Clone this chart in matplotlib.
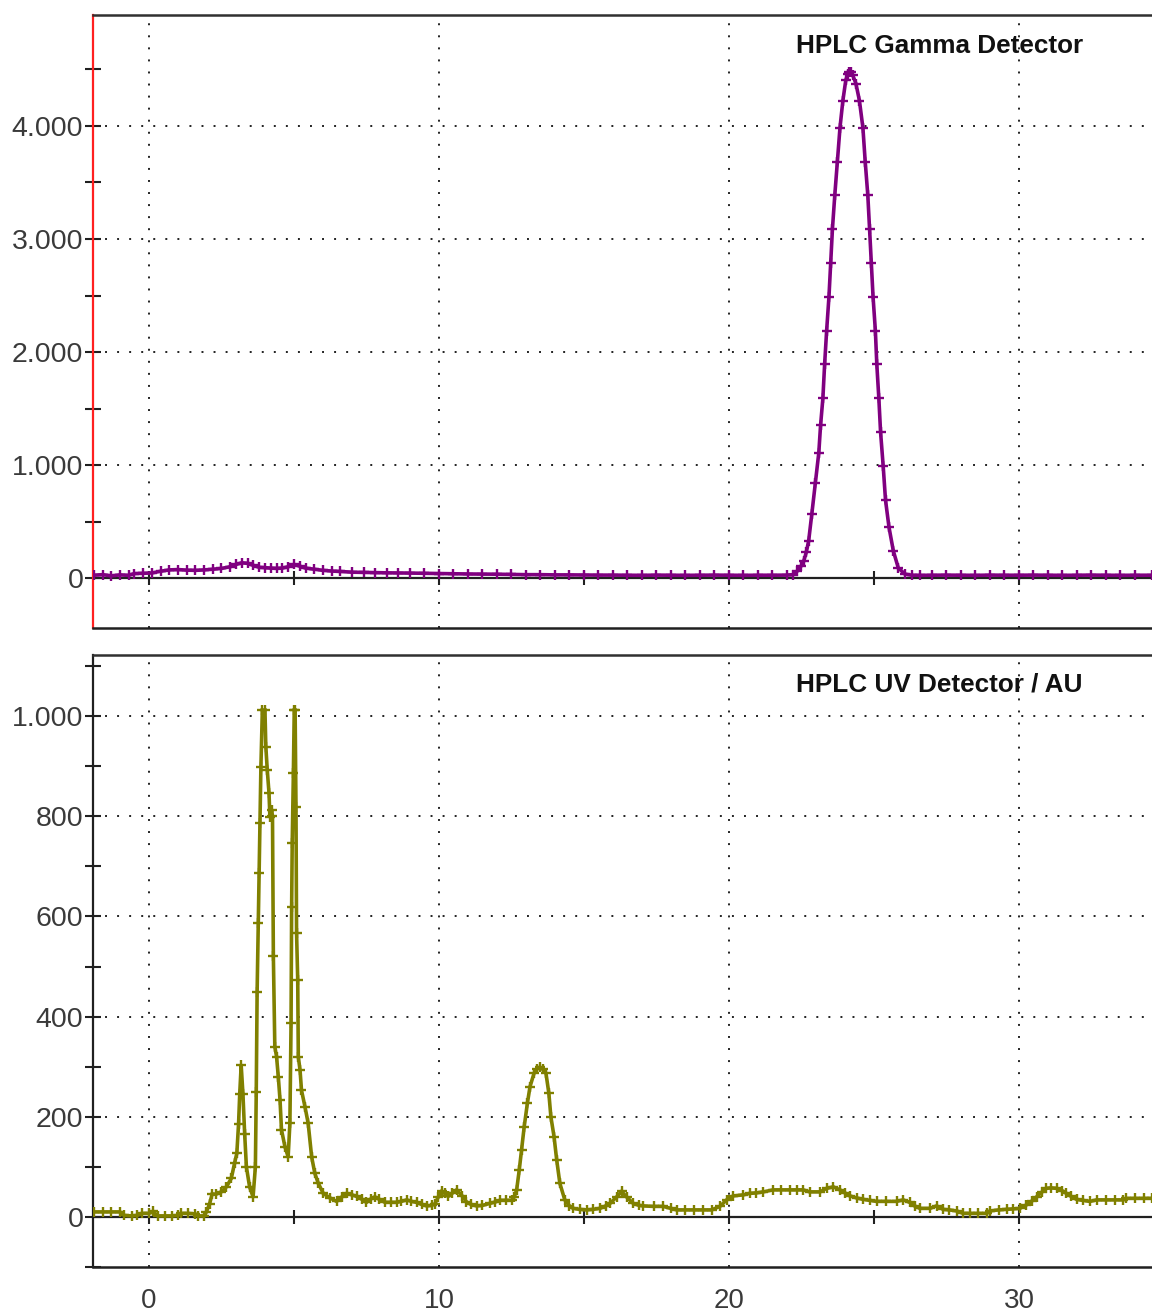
import matplotlib
matplotlib.use("Agg")
import matplotlib.pyplot as plt
from matplotlib.ticker import FixedLocator, MultipleLocator

plt.rcParams['font.family'] = ['Liberation Sans', 'DejaVu Sans']

# ---------------- data ----------------
gamma_title = "HPLC Gamma Detector"
uv_title = "HPLC UV Detector / AU"

gamma_t = [-1.9, -1.6, -1.3, -1.0, -0.7, -0.5, -0.2, 0.1, 0.4, 0.7, 1.0, 1.3, 1.6, 1.9,
           2.2, 2.5, 2.8, 3.0, 3.2, 3.4, 3.6, 3.8, 4.0, 4.2, 4.4, 4.6, 4.8, 5.0, 5.2, 5.4,
           5.7, 6.0, 6.3, 6.6, 7.0, 7.4, 7.8, 8.2, 8.6, 9.0, 9.5, 10.0, 10.5, 11.0, 11.5,
           12.0, 12.5, 13.0, 13.5, 14.0, 14.5, 15.0, 15.5, 16.0, 16.5, 17.0, 17.5, 18.0,
           18.5, 19.0, 19.5, 20.0, 20.5, 21.0, 21.5, 22.0, 22.2, 22.35, 22.5, 22.58, 22.67,
           22.75, 22.86, 22.98, 23.1, 23.16, 23.24, 23.3, 23.37, 23.45, 23.51, 23.57, 23.65,
           23.74, 23.83, 23.93, 24.03, 24.1, 24.15, 24.2, 24.27, 24.38, 24.5, 24.62, 24.7,
           24.79, 24.85, 24.91, 24.97, 25.05, 25.1, 25.17, 25.23, 25.32, 25.4, 25.52, 25.67,
           25.84, 26.07, 26.3, 26.6, 27.0, 27.5, 28.0, 28.5, 29.0, 29.5, 30.0, 30.5, 31.0,
           31.5, 32.0, 32.5, 33.0, 33.5, 34.0, 34.6]
gamma_v = [25, 30, 20, 28, 24, 40, 42, 45, 60, 72, 75, 70, 68, 72,
           78, 85, 100, 120, 135, 130, 112, 95, 92, 88, 85, 88, 100, 120, 105, 88,
           78, 68, 62, 58, 52, 50, 48, 46, 45, 44, 42, 40, 38, 36, 35,
           34, 32, 30, 30, 28, 28, 27, 26, 26, 25, 24, 26, 25,
           24, 25, 26, 25, 24, 25, 25, 26, 30, 60, 110, 150, 230,
           330, 570, 840, 1110, 1350, 1590, 1890, 2190, 2490, 2790, 3090, 3385,
           3685, 3985, 4225, 4405, 4460, 4480, 4475, 4450, 4375, 4225, 3985, 3685,
           3385, 3090, 2790, 2490, 2190, 1890, 1590, 1290, 990, 690, 450, 240,
           90, 35, 25, 24, 25, 26, 25, 24, 26, 25, 25, 26, 25,
           24, 25, 26, 25, 24, 25, 25]

uv_t = [-1.9, -1.6, -1.3, -1.0, -0.85, -0.6, -0.4, -0.25, 0.0, 0.14, 0.3, 0.55, 0.8, 1.0,
        1.1, 1.35, 1.6, 1.7, 1.9, 1.98, 2.09, 2.18, 2.3, 2.49, 2.67, 2.84, 2.95, 3.03,
        3.09, 3.13, 3.18, 3.24, 3.3, 3.36, 3.47, 3.59, 3.67, 3.7, 3.73, 3.77, 3.8, 3.83,
        3.86, 3.91, 4.0, 4.03, 4.08, 4.14, 4.17, 4.23, 4.26, 4.29, 4.34, 4.4, 4.46, 4.52,
        4.57, 4.69, 4.8, 4.86, 4.9, 4.92, 4.94, 4.98, 5.01, 5.04, 5.07, 5.09, 5.13, 5.15,
        5.21, 5.26, 5.38, 5.49, 5.61, 5.72, 5.84, 6.01, 6.24, 6.47, 6.65, 6.82, 7.0, 7.16,
        7.35, 7.5, 7.65, 7.79, 7.95, 8.14, 8.35, 8.54, 8.7, 8.89, 9.05, 9.23, 9.4, 9.58,
        9.75, 9.86, 9.98, 10.09, 10.2, 10.32, 10.45, 10.61, 10.8, 10.95, 11.1, 11.3, 11.5,
        11.76, 11.95, 12.1, 12.3, 12.51, 12.6, 12.68, 12.77, 12.85, 12.94, 13.05, 13.14,
        13.28, 13.38, 13.48, 13.58, 13.69, 13.79, 13.86, 13.97, 14.06, 14.17, 14.34, 14.5,
        14.63, 14.85, 15.09, 15.3, 15.55, 15.75, 15.9, 16.13, 16.3, 16.47, 16.7, 16.9,
        17.05, 17.4, 17.73, 18.0, 18.2, 18.5, 18.8, 19.1, 19.4, 19.69, 19.92, 20.15, 20.49,
        20.72, 20.95, 21.18, 21.53, 21.8, 22.1, 22.35, 22.56, 22.79, 23.14, 23.37, 23.6,
        23.83, 24.0, 24.17, 24.4, 24.63, 24.85, 25.09, 25.4, 25.78, 26.01, 26.24, 26.4,
        26.59, 26.93, 27.16, 27.39, 27.6, 27.85, 28.08, 28.3, 28.6, 28.89, 29.0, 29.3,
        29.58, 29.8, 30.03, 30.26, 30.45, 30.61, 30.8, 30.95, 31.1, 31.3, 31.5, 31.64,
        31.8, 31.99, 32.2, 32.45, 32.68, 33.0, 33.3, 33.6, 33.71, 34.0, 34.3, 34.6]
uv_v = [10, 10, 10, 10, 3, 2, 3, 7, 7, 11, 2, 2, 2, 3,
        7, 7, 6, 2, 2, 10, 26, 46, 45, 50, 60, 77, 107, 127,
        186, 246, 303, 246, 166, 100, 60, 40, 100, 250, 450, 587, 686, 786,
        898, 1012, 1012, 939, 892, 846, 799, 812, 800, 520, 340, 320, 280, 233,
        174, 140, 120, 187, 387, 619, 746, 886, 1012, 1012, 819, 567, 473, 320,
        293, 253, 220, 187, 120, 87, 67, 47, 38, 31, 40, 47, 44, 41,
        35, 29, 36, 40, 35, 29, 29, 29, 31, 34, 31, 29, 25, 22,
        23, 26, 40, 51, 47, 41, 47, 54, 42, 30, 25, 22, 23,
        27, 30, 33, 33, 33, 40, 54, 94, 134, 180, 227, 260,
        287, 296, 299, 295, 287, 247, 200, 160, 114, 67, 34, 22,
        17, 15, 14, 15, 17, 22, 27, 40, 51, 40, 27, 23,
        22, 21, 21, 17, 14, 14, 14, 14, 14, 21, 34, 42, 44,
        47, 48, 50, 54, 54, 54, 54, 54, 50, 50, 57, 60,
        54, 48, 42, 38, 35, 33, 31, 31, 31, 34, 29, 22,
        17, 17, 22, 15, 14, 12, 7, 7, 7, 7, 12, 14,
        15, 16, 17, 24, 32, 40, 50, 57, 58, 57, 52, 47,
        41, 35, 33, 31, 34, 34, 34, 34, 37, 37, 37, 37]

x_range = (-1.93, 34.59)
gamma_ylim = (-442, 4982)
uv_ylim = (-100, 1122)
gamma_major = [0, 1000, 2000, 3000, 4000]
gamma_labels = ["0", "1.000", "2.000", "3.000", "4.000"]
uv_major = [0, 200, 400, 600, 800, 1000]
uv_labels = ["0", "200", "400", "600", "800", "1.000"]
x_major = [0, 10, 20, 30]
x_labels = ["0", "10", "20", "30"]

# ---------------- figure ----------------
W, H = 1152, 1313
fig = plt.figure(figsize=(W / 100, H / 100), dpi=100)

L = 93 / W
ax1 = fig.add_axes([L, 1 - 628 / H, 1 - L, (628 - 15) / H])
ax2 = fig.add_axes([L, 1 - 1267 / H, 1 - L, (1267 - 655) / H])

grid_style = dict(color='#222222', linestyle=(0, (1, 5.2)), linewidth=1.4)
label_color = '#3a3a3a'


def style(ax, ylim, major, labels, minor_step, left_color, title, data_t, data_v, color, ty):
    ax.set_xlim(*x_range)
    ax.set_ylim(*ylim)
    ax.plot(data_t, data_v, color=color, lw=2.6, marker='+', ms=7, mew=1.7, zorder=3,
            solid_joinstyle='miter')
    ax.spines['right'].set_visible(False)
    ax.spines['top'].set_color('#303030')
    ax.spines['top'].set_linewidth(1.8)
    ax.spines['bottom'].set_color('#202020')
    ax.spines['bottom'].set_linewidth(1.8)
    ax.spines['left'].set_color(left_color)
    ax.spines['left'].set_linewidth(1.6)

    ax.yaxis.set_major_locator(FixedLocator(major))
    ax.set_yticklabels(labels)
    ax.yaxis.set_minor_locator(MultipleLocator(minor_step))
    ax.tick_params(axis='y', which='both', direction='inout', length=11, width=1.5,
                   color='#202020', labelsize=20.5, labelcolor=label_color, pad=1.5)

    ax.xaxis.set_major_locator(FixedLocator(x_major))
    ax.tick_params(axis='x', which='both', length=0)
    ax.grid(True, which='major', **grid_style)
    ax.set_axisbelow(True)

    # zero line carrying the x ticks
    frac = (0 - ylim[0]) / (ylim[1] - ylim[0])
    sec = ax.secondary_xaxis(frac)
    sec.set_xticks(list(range(0, 35, 5)))
    sec.tick_params(axis='x', direction='inout', length=10, width=1.5, color='#202020',
                    labelbottom=False, labeltop=False)
    sec.spines['bottom'].set_color('#202020')
    sec.spines['bottom'].set_linewidth(1.6)

    ax.text(0.799, ty, title, transform=ax.transAxes, ha='center', va='center',
            fontsize=18.8, fontweight='bold', color='#111111', zorder=5)


style(ax1, gamma_ylim, gamma_major, gamma_labels, 500, '#ff2020', gamma_title,
      gamma_t, gamma_v, '#800080', 0.949)
style(ax2, uv_ylim, uv_major, uv_labels, 100, '#202020', uv_title,
      uv_t, uv_v, '#808000', 0.9526)

ax1.set_xticklabels([])
ax2.set_xticklabels(x_labels)
ax2.tick_params(axis='x', labelsize=20, labelcolor=label_color, pad=15)

fig.savefig("out.png", dpi=100)
